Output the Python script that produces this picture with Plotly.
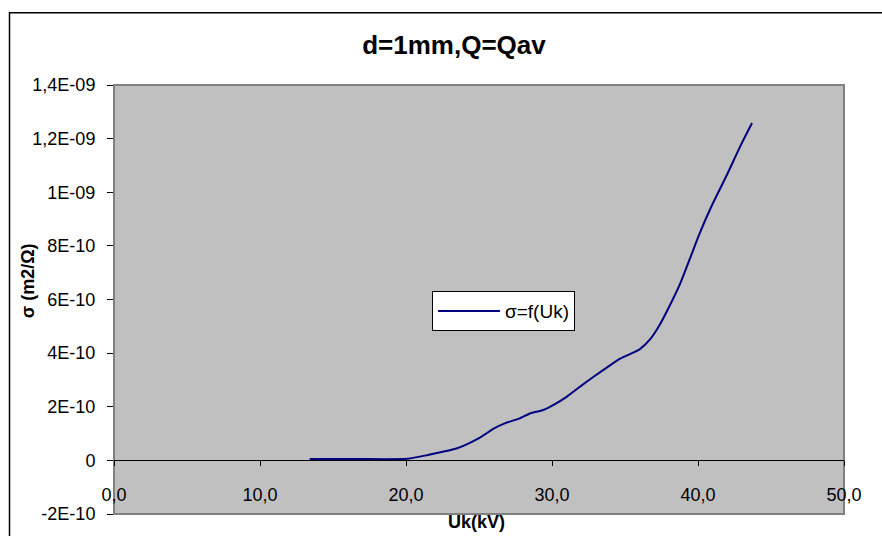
import plotly.graph_objects as go

# Data
uk_kv = [13.4, 16.5, 20.1, 21.5, 23.5, 25.0, 26.0, 26.8, 27.7, 28.5, 29.4, 30.2,
         31.0, 31.9, 32.8, 33.8, 34.7, 36.0, 36.7, 37.3, 38.0, 38.8, 39.5, 40.1,
         40.9, 42.0, 42.9, 43.7]
sigma = [5e-12, 5e-12, 6e-12, 2.0e-11, 4.5e-11, 8.3e-11, 1.18e-10, 1.39e-10, 1.55e-10,
         1.75e-10, 1.88e-10, 2.10e-10, 2.37e-10, 2.74e-10, 3.10e-10, 3.48e-10, 3.80e-10,
         4.14e-10, 4.50e-10, 4.98e-10, 5.70e-10, 6.62e-10, 7.60e-10, 8.45e-10, 9.45e-10,
         1.067e-9, 1.172e-9, 1.258e-9]

x_ticks = [0, 10, 20, 30, 40, 50]
x_ticktext = ["0,0", "10,0", "20,0", "30,0", "40,0", "50,0"]
y_ticks = [-2e-10, 0, 2e-10, 4e-10, 6e-10, 8e-10, 1e-9, 1.2e-9, 1.4e-9]
y_ticktext = ["-2E-10", "0", "2E-10", "4E-10", "6E-10", "8E-10", "1E-09", "1,2E-09", "1,4E-09"]

title_text = "d=1mm,Q=Qav"
x_title = "Uk(kV)"
y_title = "σ (m2/Ω)"
series_name = "σ=f(Uk)"

FONT = "Arial, Liberation Sans, sans-serif"

fig = go.Figure()
fig.add_trace(go.Scatter(
    x=uk_kv, y=sigma, mode="lines", name=series_name,
    line=dict(color="#000080", width=2, shape="spline", smoothing=0.6),
))

W, H = 882, 536
L, R, T, B = 114, 38, 85, 18
pw, ph = W - L - R, H - T - B

def px_x(p):
    return (p - L) / pw

def px_y(p):
    return (H - B - p) / ph

fig.update_layout(
    width=W, height=H,
    margin=dict(l=L, r=R, t=T, b=B, pad=0),
    paper_bgcolor="white",
    plot_bgcolor="#C0C0C0",
    font=dict(family=FONT, size=18, color="black"),
    title=dict(text="<b>%s</b>" % title_text, x=454 / W, xref="container", xanchor="center",
               y=1 - 45 / H, yref="container", yanchor="middle",
               font=dict(family=FONT, size=26, color="black")),
    showlegend=True,
    legend=dict(x=px_x(432), y=px_y(293), xanchor="left", yanchor="top",
                bgcolor="white", bordercolor="black", borderwidth=1,
                font=dict(family=FONT, size=19, color="black"),
                itemwidth=62, tracegroupgap=0),
    xaxis=dict(range=[0, 50], tickvals=x_ticks, ticktext=x_ticktext,
               anchor="free", position=0.125, showline=True, linecolor="black",
               linewidth=1, ticks="outside", ticklen=5, tickcolor="black",
               showgrid=False, zeroline=False, ticklabelstandoff=13,
               tickfont=dict(family=FONT, size=18, color="black")),
    yaxis=dict(range=[-2e-10, 1.4e-9], tickvals=y_ticks, ticktext=y_ticktext,
               showline=False, ticks="outside", ticklen=6, tickcolor="black",
               showgrid=False, zeroline=False, ticklabelstandoff=8,
               tickfont=dict(family=FONT, size=18, color="black")),
)

# plot-area border
fig.add_shape(type="rect", xref="paper", yref="paper", x0=0, x1=1, y0=0, y1=1,
              line=dict(color="#808080", width=2), layer="below")
# chart-area border (left and top visible)
fig.add_shape(type="rect", xref="paper", yref="paper",
              x0=px_x(9.5), x1=px_x(W + 20), y0=px_y(H + 20), y1=px_y(12),
              line=dict(color="black", width=1.5), layer="below")

fig.add_annotation(text="<b>%s</b>" % y_title, xref="paper", yref="paper",
                   x=px_x(28), y=px_y(283), textangle=-90, showarrow=False,
                   xanchor="center", yanchor="middle",
                   font=dict(family=FONT, size=18, color="black"))
fig.add_annotation(text="<b>%s</b>" % x_title, xref="paper", yref="paper",
                   x=px_x(476), y=px_y(526), showarrow=False,
                   xanchor="center", yanchor="middle",
                   font=dict(family=FONT, size=18, color="black"))

fig.write_html("out.html", config={"displayModeBar": False},
               post_script="document.body.style.margin='0';document.body.style.overflow='hidden';")
